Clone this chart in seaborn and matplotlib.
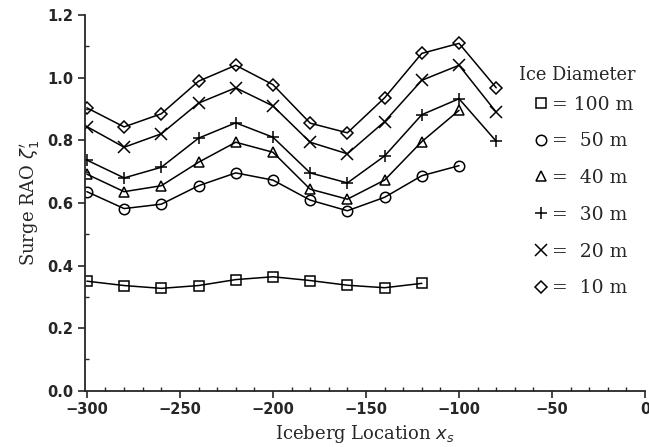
import numpy as np
import pandas as pd
import seaborn as sns
import matplotlib
matplotlib.use("Agg")
import matplotlib.pyplot as plt
from matplotlib.lines import Line2D
from matplotlib.ticker import MultipleLocator

# ---- data ----
x_full = [-300, -280, -260, -240, -220, -200, -180, -160, -140, -120, -100, -80]
d10 = [0.904, 0.843, 0.885, 0.989, 1.040, 0.978, 0.855, 0.824, 0.936, 1.078, 1.110, 0.968]
d20 = [0.844, 0.778, 0.821, 0.919, 0.968, 0.910, 0.794, 0.757, 0.860, 0.992, 1.040, 0.890]
d30 = [0.737, 0.680, 0.714, 0.807, 0.856, 0.810, 0.696, 0.664, 0.750, 0.882, 0.933, 0.797]
x_40_50 = [-300, -280, -260, -240, -220, -200, -180, -160, -140, -120, -100]
d40 = [0.692, 0.636, 0.655, 0.730, 0.794, 0.762, 0.644, 0.612, 0.673, 0.796, 0.896]
d50 = [0.636, 0.582, 0.596, 0.655, 0.696, 0.673, 0.609, 0.575, 0.618, 0.687, 0.719]
x_100 = [-300, -280, -260, -240, -220, -200, -180, -160, -140, -120]
d100 = [0.350, 0.336, 0.327, 0.336, 0.355, 0.364, 0.352, 0.337, 0.329, 0.343]

diameters = ["100 m", "50 m", "40 m", "30 m", "20 m", "10 m"]
legend_labels = ["= 100 m", "=  50 m", "=  40 m", "=  30 m", "=  20 m", "=  10 m"]
legend_title = "Ice Diameter"
series = {
    "100 m": (x_100, d100),
    "50 m": (x_40_50, d50),
    "40 m": (x_40_50, d40),
    "30 m": (x_full, d30),
    "20 m": (x_full, d20),
    "10 m": (x_full, d10),
}
marker_map = {"100 m": "s", "50 m": "o", "40 m": "^", "30 m": "+", "20 m": "x", "10 m": "D"}
msize = {"100 m": 7, "50 m": 7.5, "40 m": 7, "30 m": 9, "20 m": 9, "10 m": 6}
leg_msize = {"100 m": 7, "50 m": 7.5, "40 m": 7.5, "30 m": 8, "20 m": 8, "10 m": 6}

rows = []
for d in diameters:
    xs, ys = series[d]
    for xv, yv in zip(xs, ys):
        rows.append({"x": xv, "y": yv, "diameter": d})
df = pd.DataFrame(rows)

sns.set_style("ticks")
plt.rcParams["font.family"] = ["DejaVu Serif"]

fig = plt.figure(figsize=(6.49, 4.47), dpi=100)
ax = fig.add_axes([0.131, 0.126, 0.863, 0.840])

for d in diameters:
    sub = df[df["diameter"] == d]
    sns.lineplot(data=sub, x="x", y="y", ax=ax, color="black", lw=1.1,
                 marker=marker_map[d], markersize=msize[d],
                 markerfacecolor="none", markeredgecolor="black",
                 markeredgewidth=1.1, legend=False, estimator=None)

ax.set_xlim(-301, 0)
ax.set_ylim(0, 1.2)
ax.xaxis.set_major_locator(MultipleLocator(50))
ax.xaxis.set_minor_locator(MultipleLocator(10))
ax.yaxis.set_minor_locator(MultipleLocator(0.1))
ax.set_yticks([0.0, 0.2, 0.4, 0.6, 0.8, 1.0, 1.2])
ax.set_yticklabels(["0.0", "0.2", "0.4", "0.6", "0.8", "1.0", "1.2"])
ax.tick_params(axis="both", which="major", direction="out", length=5, width=1.2,
               labelsize=10.5)
ax.tick_params(axis="both", which="minor", direction="in", length=3, width=1)
for lab in ax.get_xticklabels() + ax.get_yticklabels():
    lab.set_family("DejaVu Sans")
    lab.set_fontweight("bold")
sns.despine(ax=ax)
for sp in ["left", "bottom"]:
    ax.spines[sp].set_linewidth(1.3)

ax.set_xlabel(r"Iceberg Location $x_s$", fontsize=13)
ax.set_ylabel(r"Surge RAO $\zeta_1'$", fontsize=13)

ax.text(0.774, 0.840, legend_title, transform=ax.transAxes, fontsize=12.8,
        ha="left", va="center")
handles = [Line2D([], [], ls="none", marker=marker_map[d], markersize=leg_msize[d],
                  markerfacecolor="none", markeredgecolor="black", markeredgewidth=1.1)
           for d in diameters]
leg = ax.legend(handles, legend_labels, frameon=False,
                loc="upper left", bbox_to_anchor=(0.791, 0.806),
                handlelength=0.6, handletextpad=0.3, labelspacing=1.0,
                borderaxespad=0.0, fontsize=13.5)

fig.savefig("out.png", dpi=100)
